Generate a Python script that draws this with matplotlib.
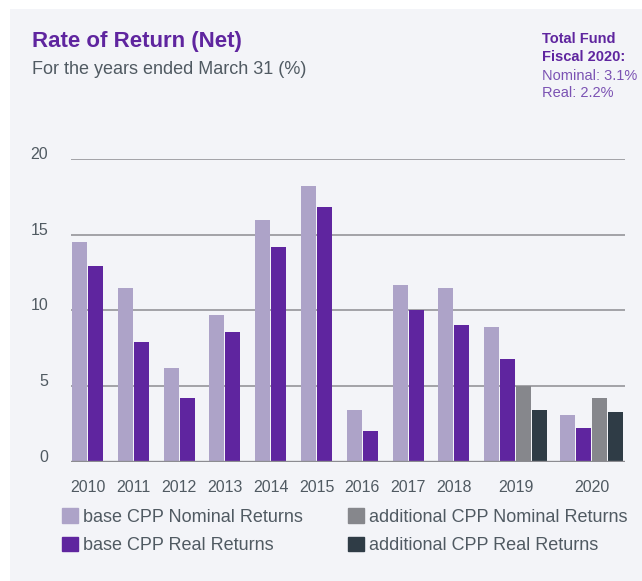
import matplotlib
matplotlib.use("Agg")
import matplotlib.pyplot as plt
from matplotlib.patches import Rectangle, Patch

plt.rcParams["font.family"] = ["Liberation Sans", "DejaVu Sans"]

years = ["2010", "2011", "2012", "2013", "2014", "2015", "2016", "2017", "2018", "2019", "2020"]
base_nominal = [14.5, 11.5, 6.2, 9.7, 16.0, 18.2, 3.4, 11.7, 11.5, 8.9, 3.1]
base_real = [12.9, 7.9, 4.2, 8.6, 14.2, 16.8, 2.0, 10.0, 9.0, 6.8, 2.2]
# additional CPP only exists for 2019 and 2020
add_years = ["2019", "2020"]
add_nominal = [5.0, 4.2]
add_real = [3.4, 3.3]

C_BASE_NOM = "#ada3c8"
C_BASE_REAL = "#5f259f"
C_ADD_NOM = "#86878c"
C_ADD_REAL = "#2f3c46"
PURPLE = "#5f259f"
TEXT = "#505a62"
BG = "#f3f4f8"

W, H = 642, 581
fig = plt.figure(figsize=(W / 100, H / 100), dpi=100, facecolor="white")
fig.patches.append(Rectangle((10 / W, 0), 1, 1 - 9 / H, transform=fig.transFigure,
                             facecolor=BG, edgecolor="none", zorder=-10))

# axes box in pixel terms
left, right, y0, y20 = 71, 625, 461.7, 159
ax = fig.add_axes([left / W, 1 - y0 / H, (right - left) / W, (y0 - y20) / H])
ax.set_facecolor("none")

# layout: group left edges in px, bars 15px wide on a 16px pitch
bar_w, pitch, step = 15, 16, 45.8
starts = [1 + i * step for i in range(10)]
starts.append(starts[-1] + 4 * pitch + 12)
n_bars = [2] * 9 + [4, 4]

ax.bar([s for s in starts], base_nominal, width=bar_w, align="edge",
       color=C_BASE_NOM, zorder=2)
ax.bar([s + pitch for s in starts], base_real, width=bar_w, align="edge",
       color=C_BASE_REAL, zorder=2)
add_starts = [starts[years.index(y)] for y in add_years]
ax.bar([s + 2 * pitch for s in add_starts], add_nominal, width=bar_w, align="edge",
       color=C_ADD_NOM, zorder=2)
ax.bar([s + 3 * pitch for s in add_starts], add_real, width=bar_w, align="edge",
       color=C_ADD_REAL, zorder=2)

ax.set_xlim(0, right - left)
ax.set_ylim(0, 20)
for v in [5, 10, 15, 20]:
    ax.axhline(v, color="#9c9ca1", lw=1.3, zorder=0)
ax.axhline(0, color="#8c8c91", lw=2.4, zorder=3)

for sp in ax.spines.values():
    sp.set_visible(False)

centers = [s + (n * pitch - 1) / 2 for s, n in zip(starts, n_bars)]
ax.set_xticks(centers)
ax.set_xticklabels(years)
ax.set_yticks([0, 5, 10, 15, 20])
ax.set_yticklabels(["0", "5", "10", "15", "20"])
ax.tick_params(axis="both", length=0, labelsize=11.5, labelcolor=TEXT)
ax.tick_params(axis="x", pad=13)
ax.tick_params(axis="y", pad=16.5)
for lab in ax.get_yticklabels():
    lab.set_verticalalignment("baseline")

# titles
fig.text(32 / W, 1 - 47 / H, "Rate of Return (Net)", fontsize=16, fontweight="bold",
         color=PURPLE, va="baseline")
fig.text(32 / W, 1 - 74 / H, "For the years ended March 31 (%)", fontsize=13,
         color=TEXT, va="baseline")

fig.text(542 / W, 1 - 43 / H, "Total Fund", fontsize=10.5, fontweight="bold",
         color=PURPLE, va="baseline")
fig.text(542 / W, 1 - 61 / H, "Fiscal 2020:", fontsize=10.5, fontweight="bold",
         color=PURPLE, va="baseline")
fig.text(542 / W, 1 - 80 / H, "Nominal: 3.1%", fontsize=10.5, color="#7b52b3",
         va="baseline")
fig.text(542 / W, 1 - 97 / H, "Real: 2.2%", fontsize=10.5, color="#7b52b3",
         va="baseline")

handles = [Patch(color=C_BASE_NOM), Patch(color=C_BASE_REAL),
           Patch(color=C_ADD_NOM), Patch(color=C_ADD_REAL)]
labels = ["base CPP Nominal Returns", "base CPP Real Returns",
          "additional CPP Nominal Returns", "additional CPP Real Returns"]
fs = 13
fig.legend(handles, labels, ncol=2, loc="upper left",
           bbox_to_anchor=(62 / W, 1 - 508 / H), frameon=False, fontsize=fs,
           labelcolor=TEXT, borderpad=0, borderaxespad=0,
           handlelength=0.89, handleheight=0.89, handletextpad=0.28,
           labelspacing=0.6, columnspacing=2.5)

fig.savefig("out.png", dpi=100, facecolor="white")
